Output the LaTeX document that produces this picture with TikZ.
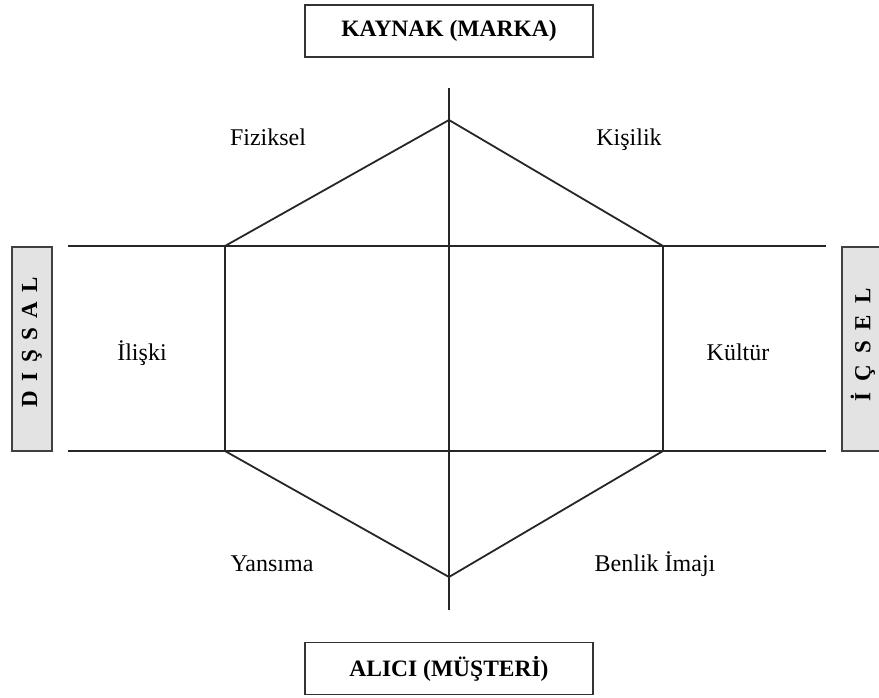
\documentclass[tikz,border=0pt]{standalone}
\usepackage{fontspec}
\setmainfont{Liberation Serif}
\begin{document}
\begin{tikzpicture}[x=1pt,y=-1pt,
  ln/.style={line width=1.8pt, draw=black!85},
  lbl/.style={font=\fontsize{24}{28}\selectfont, inner sep=0pt, anchor=base},
  headbox/.style={draw=black!80, line width=1.8pt, fill=white, minimum width=288pt, minimum height=52pt, inner sep=0pt, font=\fontsize{23.5}{28}\selectfont\bfseries},
  sidebox/.style={draw=black!75, line width=1.8pt, fill=black!11}]
\useasboundingbox (0,0) rectangle (879,697);
% side boxes
\draw[sidebox] (12,247) rectangle (52,451);
\draw[sidebox] (842,247) rectangle (880,451);
\node[rotate=90, inner sep=0pt, font=\fontsize{23}{28}\selectfont\bfseries] (dis) at (32,342) {D\hspace{9.5pt}I\hspace{9.5pt}Ş\hspace{9.5pt}S\hspace{9.5pt}A\hspace{9.5pt}L};
\node[rotate=90, inner sep=0pt, font=\fontsize{23}{28}\selectfont\bfseries] (ic) at (863,345) {İ\hspace{11pt}Ç\hspace{11pt}S\hspace{11pt}E\hspace{11pt}L};
% head boxes
\node[headbox] (kaynak) at (449,31) {KAYNAK (MARKA)};
\node[headbox] (alici) at (449,668.5) {ALICI (MÜŞTERİ)};
% coordinates
\coordinate (vt) at (449,88);
\coordinate (vb) at (449,610);
\coordinate (tl) at (68,246);
\coordinate (tr) at (826,246);
\coordinate (bl) at (68,451);
\coordinate (br) at (826,451);
\coordinate (apt) at (449,120);
\coordinate (apb) at (449,577);
\coordinate (hl1) at (225,246);
\coordinate (hr1) at (663,246);
\coordinate (hl2) at (225,451);
\coordinate (hr2) at (663,451);
% lines
\draw[ln] (vt) -- (vb);
\draw[ln] (tl) -- (tr);
\draw[ln] (bl) -- (br);
\draw[ln, line join=miter] (hl1) -- (apt) -- (hr1) -- (hr2) -- (apb) -- (hl2) -- cycle;
% labels
\node[lbl] (fiz) at (268,145) {Fiziksel};
\node[lbl] (kis) at (629,145) {Kişilik};
\node[lbl] (ili) at (142,360) {İlişki};
\node[lbl] (kul) at (738,360) {Kültür};
\node[lbl] (yan) at (272,571) {Yansıma};
\node[lbl] (ben) at (655,571) {Benlik İmajı};
\end{tikzpicture}
\end{document}
